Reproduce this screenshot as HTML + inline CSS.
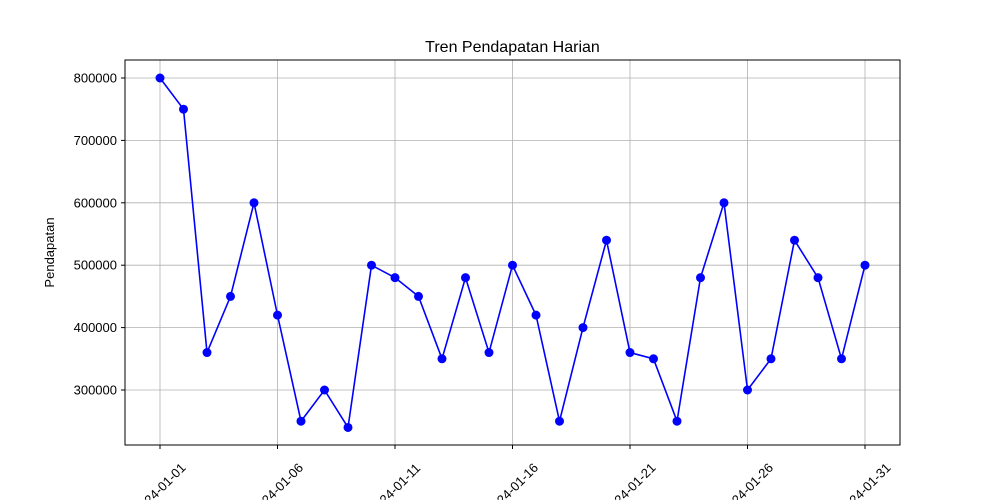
<!DOCTYPE html>
<html><head><meta charset="utf-8"><style>body{margin:0;background:#fff}svg{display:block;font-family:"Liberation Sans",sans-serif}</style></head>
<body>
<svg id="chart" width="1000" height="500"></svg>
<script>
const days = Array.from({length:31},(_,i)=>i+1);
const revenue = [800000,750000,360000,450000,600000,420000,250000,300000,240000,500000,480000,450000,350000,480000,360000,500000,420000,250000,400000,540000,360000,350000,250000,480000,600000,300000,350000,540000,480000,350000,500000];
const yTicks = [300000,400000,500000,600000,700000,800000];
const xTickDays = [1,6,11,16,21,26,31];
const NS="http://www.w3.org/2000/svg";
const svg=document.getElementById('chart');
const L=125,R=900,T=60,B=445;
const xs=d=>160+(d-1)*(865-160)/30;
const ys=v=>390-(v-300000)*(390-78)/500000;
function el(t,a,txt){const e=document.createElementNS(NS,t);for(const k in a)e.setAttribute(k,a[k]);if(txt!==undefined)e.textContent=txt;svg.appendChild(e);return e;}
yTicks.forEach(v=>{
  const g=el('line',{x1:L,x2:R,y1:ys(v),y2:ys(v),stroke:'#b0b0b0','stroke-width':0.8});
  
  
  el('line',{x1:L-4,x2:L,y1:ys(v),y2:ys(v),stroke:'#000'});
  const t=el('text',{x:L-8,y:ys(v)+4.5,'text-anchor':'end','font-size':13},String(v));
  
  
});
xTickDays.forEach(d=>{
  const g=el('line',{x1:xs(d),x2:xs(d),y1:T,y2:B,stroke:'#b0b0b0','stroke-width':0.8});
  
  
  el('line',{x1:xs(d),x2:xs(d),y1:B,y2:B+4,stroke:'#000'});
  const lab='2024-01-'+String(d).padStart(2,'0');
  const cx=xs(d)+3,cy=492;
  const t=el('text',{x:cx,y:cy,'text-anchor':'middle','font-size':13,transform:`rotate(-45 ${cx} ${cy})`},lab);
  
  
});
const fr=el('rect',{x:L,y:T,width:R-L,height:B-T,fill:'none',stroke:'#000','stroke-width':1});


const line=el('polyline',{points:days.map((d,i)=>xs(d)+','+ys(revenue[i])).join(' '),fill:'none',stroke:'#0000ff','stroke-width':1.6});


days.forEach((d,i)=>{
  const c=el('circle',{cx:xs(d),cy:ys(revenue[i]),r:4.5,fill:'#0000ff'});
  
  
});
const ti=el('text',{x:(L+R)/2,y:52,'text-anchor':'middle','font-size':16},'Tren Pendapatan Harian');


const yl=el('text',{x:54,y:(T+B)/2,'text-anchor':'middle','font-size':13,transform:`rotate(-90 54 ${(T+B)/2})`},'Pendapatan');


</script>
</body></html>
